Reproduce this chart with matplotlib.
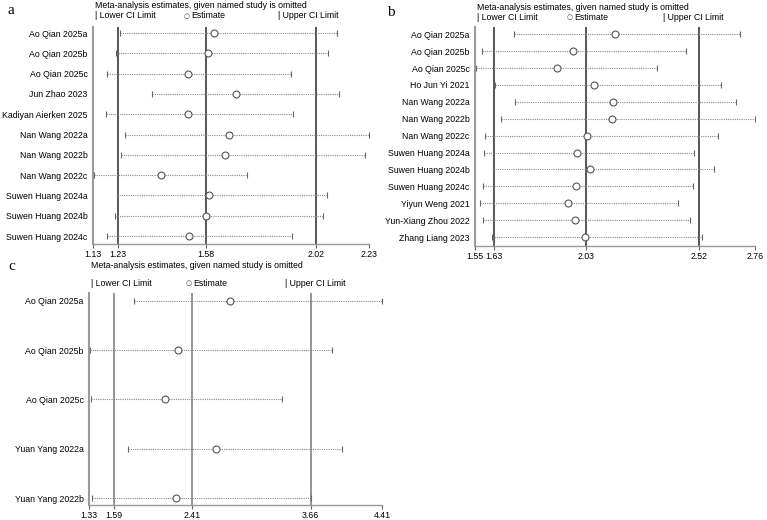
import matplotlib
matplotlib.use("Agg")
import matplotlib.pyplot as plt

plt.rcParams['font.family'] = ['Liberation Sans', 'DejaVu Sans']
plt.rcParams['font.size'] = 6.3

# panel a
studies_a = ["Ao Qian 2025a", "Ao Qian 2025b", "Ao Qian 2025c", "Jun Zhao 2023",
             "Kadiyan Aierken 2025", "Nan Wang 2022a", "Nan Wang 2022b", "Nan Wang 2022c",
             "Suwen Huang 2024a", "Suwen Huang 2024b", "Suwen Huang 2024c"]
est_a = [1.614, 1.588, 1.508, 1.699, 1.510, 1.673, 1.657, 1.403, 1.591, 1.580, 1.512]
low_a = [1.239, 1.221, 1.184, 1.367, 1.180, 1.256, 1.240, 1.132, 1.225, 1.219, 1.186]
up_a = [2.103, 2.067, 1.920, 2.110, 1.929, 2.229, 2.213, 1.742, 2.064, 2.047, 1.924]
ticks_a = [1.13, 1.23, 1.58, 2.02, 2.23]
ref_a = [1.23, 1.58, 2.02]

# panel b
studies_b = ["Ao Qian 2025a", "Ao Qian 2025b", "Ao Qian 2025c", "Ho Jun Yi 2021",
             "Nan Wang 2022a", "Nan Wang 2022b", "Nan Wang 2022c", "Suwen Huang 2024a",
             "Suwen Huang 2024b", "Suwen Huang 2024c", "Yiyun Weng 2021",
             "Yun-Xiang Zhou 2022", "Zhang Liang 2023"]
est_b = [2.154, 1.972, 1.904, 2.064, 2.148, 2.143, 2.035, 1.992, 2.048, 1.986, 1.954, 1.983, 2.026]
low_b = [1.719, 1.579, 1.553, 1.635, 1.721, 1.664, 1.595, 1.589, 1.627, 1.585, 1.573, 1.586, 1.622]
up_b = [2.695, 2.461, 2.337, 2.611, 2.679, 2.761, 2.598, 2.498, 2.581, 2.490, 2.427, 2.480, 2.532]
ticks_b = [1.55, 1.63, 2.03, 2.52, 2.76]
ref_b = [1.63, 2.03, 2.52]

# panel c
studies_c = ["Ao Qian 2025a", "Ao Qian 2025b", "Ao Qian 2025c", "Yuan Yang 2022a", "Yuan Yang 2022b"]
est_c = [2.816, 2.268, 2.128, 2.665, 2.240]
low_c = [1.801, 1.337, 1.348, 1.735, 1.366]
up_c = [4.41, 3.880, 3.364, 3.989, 3.666]
ticks_c = [1.33, 1.59, 2.41, 3.66, 4.41]
ref_c = [1.59, 2.41, 3.66]

W, H = 767, 520
fig = plt.figure(figsize=(W / 100, H / 100), dpi=100)


def px_axes(l, r, t, b):
    return fig.add_axes([l / W, 1 - b / H, (r - l) / W, (b - t) / H])


def draw_panel(ax, studies, est, low, up, ticks, refs, ylim, refcolor):
    n = len(studies)
    rows = list(range(n))
    for x in refs:
        ax.axvline(x, color=refcolor, lw=1.3, zorder=1)
    for i in rows:
        ax.plot([low[i], up[i]], [i, i], color='#8a8a8a', lw=0.8,
                linestyle=(0, (1, 1)), zorder=2)
    ax.plot(low, rows, ls='none', marker='|', ms=5, mew=0.8, color='#666666', zorder=3)
    ax.plot(up, rows, ls='none', marker='|', ms=5, mew=0.8, color='#666666', zorder=3)
    ax.plot(est, rows, ls='none', marker='o', ms=5, mfc='white', mec='#555555',
            mew=0.8, zorder=4)
    ax.set_xlim(ticks[0], ticks[-1])
    ax.set_ylim(*ylim)
    ax.set_xticks(ticks)
    ax.set_xticklabels([f"{t:.2f}" for t in ticks])
    ax.set_yticks(rows)
    ax.set_yticklabels(studies)
    ax.tick_params(axis='y', length=0, pad=4)
    ax.tick_params(axis='x', length=3, width=0.8, color='#666666', pad=1)
    for s in ['top', 'right']:
        ax.spines[s].set_visible(False)
    ax.spines['left'].set_color('#9a9a9a')
    ax.spines['left'].set_linewidth(1.5)
    ax.spines['bottom'].set_color('#9a9a9a')
    ax.spines['bottom'].set_linewidth(1.0)


def legend_text(x0, y_title, x_low, x_est, x_up, y_leg):
    fig.text(x0 / W, 1 - y_title / H, "Meta-analysis estimates, given named study is omitted",
             ha='left', va='center')
    fig.text(x_low / W, 1 - y_leg / H, "| Lower CI Limit", ha='left', va='center')
    fig.text(x_est / W, 1 - y_leg / H, "\u25cb", ha='left', va='center',
             fontsize=5, color='#444444', family=['DejaVu Sans'])
    fig.text((x_est + 7) / W, 1 - y_leg / H, "Estimate", ha='left', va='center')
    fig.text(x_up / W, 1 - y_leg / H, "| Upper CI Limit", ha='left', va='center')


ax_a = px_axes(93, 369, 27, 244)
draw_panel(ax_a, studies_a, est_a, low_a, up_a, ticks_a, ref_a, (10.39, -0.3), '#4a4a4a')
legend_text(95, 6, 95, 184, 278, 16)

ax_b = px_axes(475, 755, 27, 246)
draw_panel(ax_b, studies_b, est_b, low_b, up_b, ticks_b, ref_b, (12.53, -0.43), '#4a4a4a')
legend_text(477, 7, 477, 567, 663, 17)

ax_c = px_axes(89, 382, 293, 505)
draw_panel(ax_c, studies_c, est_c, low_c, up_c, ticks_c, ref_c, (4.14, -0.16), '#8c8c8c')
legend_text(91, 265, 91, 186, 285, 283)

serif = ['Liberation Serif', 'DejaVu Serif']
fig.text(8 / W, 1 - 10 / H, "a", fontsize=11, family=serif, ha='left', va='center')
fig.text(387 / W, 1 - 12 / H, "b", fontsize=11, family=serif, ha='left', va='center')
fig.text(8 / W, 1 - 266 / H, "c", fontsize=11, family=serif, ha='left', va='center')

fig.savefig("out.png", dpi=100)
